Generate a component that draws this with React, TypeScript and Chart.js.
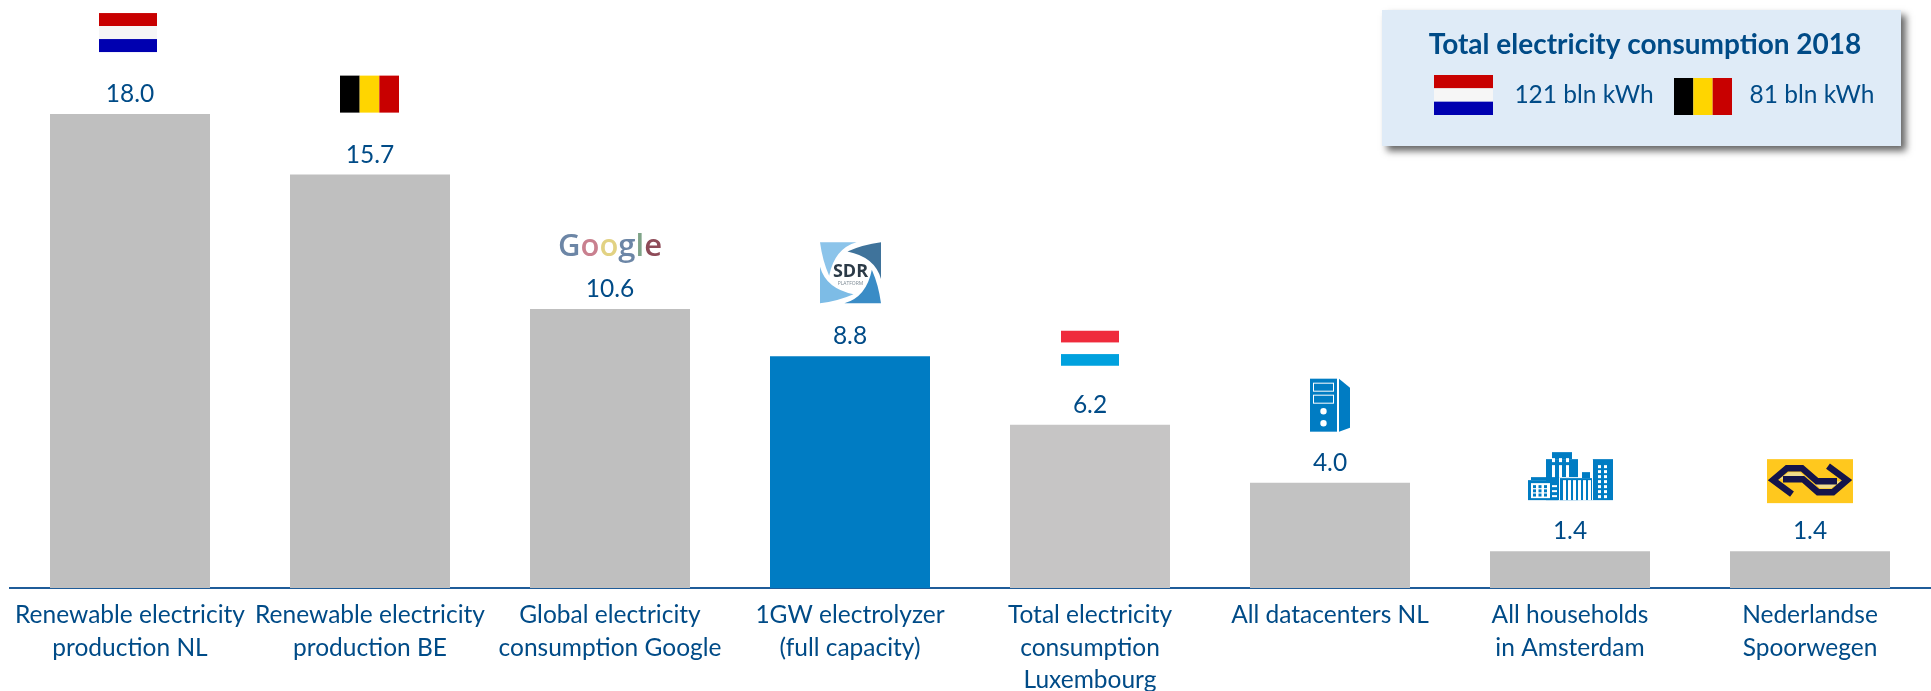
import React, { useEffect, useRef } from "react";
import { Chart, registerables } from "chart.js";

Chart.register(...registerables);

const categories: string[][] = [
  ["Renewable electricity", "production NL"],
  ["Renewable electricity", "production BE"],
  ["Global electricity", "consumption Google"],
  ["1GW electrolyzer", "(full capacity)"],
  ["Total electricity", "consumption", "Luxembourg"],
  ["All datacenters NL"],
  ["All households", "in Amsterdam"],
  ["Nederlandse", "Spoorwegen"],
];
const values: number[] = [18.0, 15.7, 10.6, 8.8, 6.2, 4.0, 1.4, 1.4];
const barColors: string[] = ["#BFBFBF", "#BFBFBF", "#BFBFBF", "#007CC3", "#C6C5C5", "#C2C2C2", "#BFBFBF", "#BFBFBF"];
const boxTitle = "Total electricity consumption 2018";
const boxNL = "121 bln kWh";
const boxBE = "81 bln kWh";

const FONT = "Lato";
const INK = "#004B87";
const BLUE = "#007CC3";

type C = CanvasRenderingContext2D;

function rect(c: C, x: number, y: number, w: number, h: number, col: string) {
  c.fillStyle = col;
  c.fillRect(x, y, w, h);
}
function flagNL(c: C, x: number, y: number, w: number, h: number) {
  rect(c, x, y, w, h / 3, "#C80000");
  rect(c, x, y + h / 3, w, h / 3, "#F6F6F6");
  rect(c, x, y + (2 * h) / 3, w, h / 3, "#0000B0");
}
function flagBE(c: C, x: number, y: number, w: number, h: number) {
  rect(c, x, y, w / 3, h, "#000000");
  rect(c, x + w / 3, y, w / 3, h, "#FFD500");
  rect(c, x + (2 * w) / 3, y, w / 3, h, "#C80000");
}
function flagLU(c: C, x: number, y: number, w: number, h: number) {
  rect(c, x, y, w, h / 3, "#EF2B3C");
  rect(c, x, y + (2 * h) / 3, w, h / 3, "#00A1DE");
}
function google(c: C, cx: number, y: number) {
  const letters: [string, string][] = [
    ["G", "#6C86A6"], ["o", "#C9808F"], ["o", "#E2D283"],
    ["g", "#6C86A6"], ["l", "#7FA488"], ["e", "#8E4B58"],
  ];
  c.font = `600 31px "Open Sans"`;
  c.textBaseline = "alphabetic";
  c.textAlign = "left";
  const total = letters.reduce((s, l) => s + c.measureText(l[0]).width, 0);
  let x = cx - total / 2;
  for (const [ch, col] of letters) {
    c.fillStyle = col;
    c.fillText(ch, x, y);
    x += c.measureText(ch).width;
  }
}
function sdr(c: C, x: number, y: number, s: number) {
  rect(c, x, y, s, s, "#FFFFFF");
  const blade = (rot: number, col: string) => {
    c.save();
    c.translate(x + s / 2, y + s / 2);
    c.rotate(rot);
    c.fillStyle = col;
    c.beginPath();
    c.moveTo(-0.05 * s, -0.35 * s);
    c.quadraticCurveTo(0.2 * s, -0.46 * s, 0.5 * s, -0.5 * s);
    c.lineTo(0.5 * s, 0.1 * s);
    c.quadraticCurveTo(0.4 * s, -0.26 * s, -0.05 * s, -0.35 * s);
    c.closePath();
    c.fill();
    c.restore();
  };
  blade(0, "#3F739B");
  blade(Math.PI / 2, "#3A8CC6");
  blade(Math.PI, "#7DBCE6");
  blade(-Math.PI / 2, "#8CC4EA");
  c.fillStyle = "#2B3A47";
  c.textAlign = "center";
  c.textBaseline = "middle";
  c.font = `700 18px "Open Sans"`;
  c.fillText("SDR", x + s / 2, y + s / 2 - 1);
  c.fillStyle = "#7C8A94";
  c.font = `5px "Open Sans"`;
  c.fillText("PLATFORM", x + s / 2, y + s / 2 + 11);
}
function server(c: C, x: number, y: number) {
  rect(c, x, y, 27, 53, BLUE);
  c.strokeStyle = "#FFFFFF";
  c.lineWidth = 1;
  c.strokeRect(x + 3.5, y + 4.5, 20, 8);
  c.strokeRect(x + 3.5, y + 16.5, 20, 8);
  c.fillStyle = "#FFFFFF";
  c.beginPath();
  c.arc(x + 13.5, y + 32.5, 3.2, 0, Math.PI * 2);
  c.arc(x + 13.5, y + 44.5, 3.2, 0, Math.PI * 2);
  c.fill();
  c.fillStyle = BLUE;
  c.beginPath();
  c.moveTo(x + 29, y);
  c.lineTo(x + 40, y + 9);
  c.lineTo(x + 40, y + 49);
  c.lineTo(x + 29, y + 53);
  c.closePath();
  c.fill();
}
function windows(c: C, x: number, y: number, cols: number, rows: number, dx: number, dy: number, w: number, h: number, col = "#FFFFFF") {
  for (let i = 0; i < cols; i++)
    for (let j = 0; j < rows; j++) rect(c, x + i * dx, y + j * dy, w, h, col);
}
function buildings(c: C, x: number, y: number) {
  rect(c, x + 18, y + 7, 32, 41, BLUE);
  rect(c, x + 24, y, 20, 7, BLUE);
  rect(c, x + 0, y + 28, 30, 20, BLUE);
  rect(c, x + 3, y + 25, 16, 3, BLUE);
  rect(c, x + 31, y + 25, 33, 23, "#FFFFFF");
  rect(c, x + 32, y + 26, 32, 22, BLUE);
  rect(c, x + 54, y + 20, 8, 6, BLUE);
  rect(c, x + 64, y + 7, 21, 41, BLUE);
  rect(c, x + 64, y + 7, 1, 41, "#FFFFFF");
  windows(c, x + 24, y + 6, 3, 1, 7, 0, 3, 4);
  windows(c, x + 24, y + 13, 3, 1, 7, 0, 3, 12);
  windows(c, x + 35, y + 28, 6, 1, 5, 0, 3, 20);
  rect(c, x + 3, y + 31, 19, 15, "#FFFFFF");
  windows(c, x + 5, y + 33, 3, 3, 5.5, 4.2, 3, 3, BLUE);
  windows(c, x + 24, y + 33, 1, 3, 0, 5, 5, 2);
  windows(c, x + 70, y + 13, 2, 7, 6, 5, 3, 3);
}
function nsLogo(c: C, x: number, y: number) {
  rect(c, x, y, 86, 44, "#FFC81E");
  const mx = x + 43, my = y + 21;
  const pale: number[][] = [[-31, -1], [-21, -8], [-10, -8], [-2, -1]];
  c.fillStyle = "#EFDC8E";
  for (const sign of [1, -1]) {
    c.beginPath();
    pale.forEach((p, i) => {
      const px = mx + sign * p[0];
      const py = my + sign * p[1];
      if (i === 0) c.moveTo(px, py);
      else c.lineTo(px, py);
    });
    c.closePath();
    c.fill();
  }
  const path: number[][] = [[-18, 14], [-37, 0], [-23, -12], [-8, -12], [7, 1], [27, 1]];
  c.strokeStyle = "#14144A";
  c.lineJoin = "miter";
  c.lineWidth = 6.5;
  for (const sign of [1, -1]) {
    c.beginPath();
    path.forEach((p, i) => {
      const px = mx + sign * p[0];
      const py = my + sign * p[1];
      if (i === 0) c.moveTo(px, py);
      else c.lineTo(px, py);
    });
    c.stroke();
  }
}

const overlay = {
  id: "overlay",
  afterDatasetsDraw(chart: any) {
    const c: C = chart.ctx;
    const xs = chart.scales.x;
    const ys = chart.scales.y;
    c.save();
    c.font = `24.5px ${FONT}`;
    c.textAlign = "center";
    c.textBaseline = "middle";
    values.forEach((v, i) => {
      c.fillStyle = INK;
      c.fillText(v.toFixed(1), xs.getPixelForValue(i), ys.getPixelForValue(v) - 20);
    });
    const px = (i: number) => xs.getPixelForValue(i);
    const py = (i: number) => ys.getPixelForValue(values[i]);
    flagNL(c, px(0) - 31, py(0) - 101, 58, 39);
    flagBE(c, px(1) - 30, py(1) - 99, 59, 37);
    google(c, px(2), py(2) - 53);
    sdr(c, px(3) - 30, py(3) - 114, 61);
    flagLU(c, px(4) - 29, py(4) - 94, 58, 35);
    server(c, px(5) - 20, py(5) - 104);
    buildings(c, px(6) - 42, py(6) - 99);
    nsLogo(c, px(7) - 43, py(7) - 92);

    c.save();
    c.shadowColor = "rgba(0,0,0,0.6)";
    c.shadowBlur = 7;
    c.shadowOffsetX = 5;
    c.shadowOffsetY = 5;
    rect(c, 1382, 10, 519, 136, "#DFEBF7");
    c.restore();
    c.textBaseline = "middle";
    c.textAlign = "center";
    c.fillStyle = INK;
    c.font = `700 28px ${FONT}`;
    c.fillText(boxTitle, 1645, 45);
    c.font = `24.5px ${FONT}`;
    c.fillStyle = INK;
    c.fillText(boxNL, 1584, 95);
    c.fillText(boxBE, 1812, 95);
    flagNL(c, 1434, 75, 59, 40);
    flagBE(c, 1674, 78, 58, 37);
    c.restore();
  },
};

export default function App() {
  const ref = useRef<HTMLCanvasElement | null>(null);
  useEffect(() => {
    document.body.style.margin = "0";
    const chart = new Chart(ref.current as HTMLCanvasElement, {
      type: "bar",
      data: {
        labels: categories,
        datasets: [
          {
            data: values,
            backgroundColor: barColors,
            borderWidth: 0,
            categoryPercentage: 1,
            barPercentage: 160 / 240,
          },
        ],
      },
      options: {
        responsive: false,
        animation: false,
        events: [],
        layout: { padding: { left: 10, right: 1, top: 0, bottom: 0 } },
        plugins: { legend: { display: false }, tooltip: { enabled: false }, title: { display: false } },
        scales: {
          x: {
            grid: { display: false, drawTicks: false },
            border: { display: true, color: "#1F5C99", width: 2 },
            afterFit(scale: any) {
              scale.height = 103;
            },
            ticks: {
              autoSkip: false,
              maxRotation: 0,
              minRotation: 0,
              padding: 11,
              color: INK,
              font: { family: FONT, size: 24.5, lineHeight: 1.33 },
            },
          },
          y: { display: false, min: 0, max: 588 / 26.33 },
        },
      },
      plugins: [overlay],
    } as any);
    return () => chart.destroy();
  }, []);
  return (
    <div style={{ position: "absolute", left: 0, top: 0, width: 1931, height: 691, background: "#FFFFFF" }}>
      <canvas ref={ref} width={1931} height={691} style={{ display: "block" }} />
    </div>
  );
}
